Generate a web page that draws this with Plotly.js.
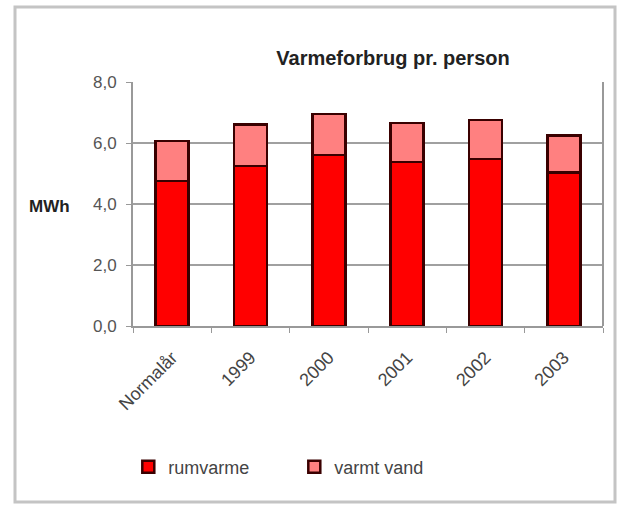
<!DOCTYPE html>
<html>
<head>
<meta charset="utf-8">
<script src="https://cdn.plot.ly/plotly-3.0.1.min.js"></script>
<style>
html,body{margin:0;padding:0;background:#fff;}
#chart{width:620px;height:505px;}
</style>
</head>
<body>
<div id="chart"></div>
<script>
const categories = ["Normalår", "1999", "2000", "2001", "2002", "2003"];
const rumvarme = [4.75, 5.25, 5.6, 5.38, 5.48, 5.03];
const varmtVand = [1.32, 1.35, 1.35, 1.27, 1.27, 1.21];
const yTicks = [0, 2, 4, 6, 8];

const lineStyle = {color: "#3a0000", width: 2.5};
const traces = [
  {type: "bar", name: "rumvarme", x: categories, y: rumvarme,
   marker: {color: "#ff0000", line: lineStyle}},
  {type: "bar", name: "varmt vand", x: categories, y: varmtVand,
   marker: {color: "#ff8080", line: lineStyle}}
];

const layout = {
  width: 620, height: 505,
  barmode: "stack",
  bargap: 0.58,
  separators: ",.",
  paper_bgcolor: "#ffffff",
  plot_bgcolor: "#ffffff",
  margin: {l: 133, r: 17, t: 82, b: 179},
  font: {family: "Liberation Sans, Arial, sans-serif", size: 16, color: "#444"},
  title: {text: "<b>Varmeforbrug pr. person</b>", x: 393/620, xanchor: "center",
          y: 1 - 58/505, yanchor: "middle",
          font: {family: "Liberation Sans, Arial, sans-serif", size: 20, color: "#222"}},
  xaxis: {
    type: "category",
    tickangle: -45,
    ticks: "outside", tickson: "boundaries", ticklen: 5, tickcolor: "#999",
    showline: true, linecolor: "#999", linewidth: 2, mirror: false,
    showgrid: false,
    tickfont: {size: 18, color: "#444"},
    ticklabelstandoff: 12
  },
  yaxis: {
    range: [0, 8],
    tickvals: yTicks,
    tickformat: ".1f",
    ticks: "outside", ticklen: 5, tickcolor: "#999",
    showline: true, linecolor: "#999", linewidth: 2,
    showgrid: true, gridcolor: "#a0a0a0", gridwidth: 2,
    zeroline: false,
    tickfont: {size: 17, color: "#555"},
    ticklabelstandoff: 6
  },
  showlegend: true,
  legend: {orientation: "h", x: -0.01, xanchor: "left", y: (326-467)/244, yanchor: "middle",
           font: {size: 18, color: "#444"}, entrywidth: 121, traceorder: "normal",
           bgcolor: "rgba(0,0,0,0)"},
  annotations: [
    {text: "<b>MWh</b>", xref: "paper", yref: "paper", x: (27-133)/470, xanchor: "left",
     y: (326-206)/244, yanchor: "middle", showarrow: false,
     font: {size: 17, color: "#222"}}
  ],
  shapes: [
    {type: "rect", xref: "paper", yref: "paper",
     x0: (15-133)/470, x1: (615-133)/470, y0: (326-502)/244, y1: (326-7)/244,
     line: {color: "#c4c4c4", width: 3}, fillcolor: "rgba(0,0,0,0)", layer: "below"},
    {type: "line", xref: "paper", yref: "paper", x0: 1, x1: 1, y0: 0, y1: 1,
     line: {color: "#999", width: 2}}
  ]
};

Plotly.newPlot("chart", traces, layout, {displayModeBar: false, staticPlot: true});
</script>
</body>
</html>
